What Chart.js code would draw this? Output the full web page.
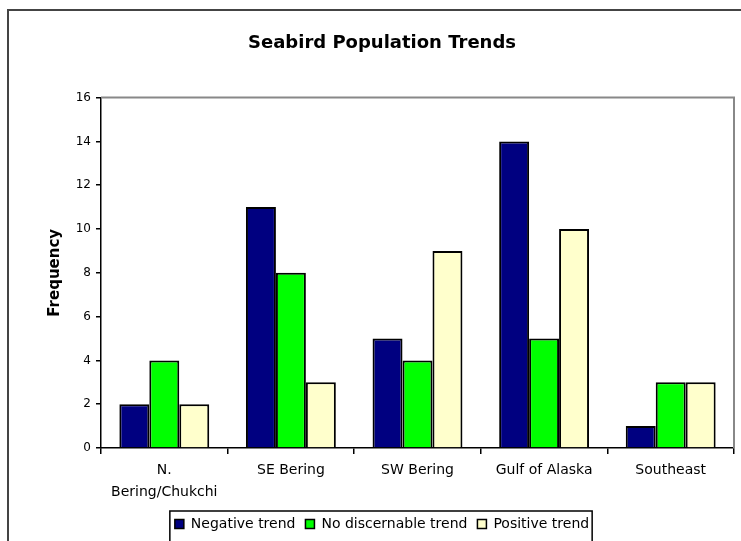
<!DOCTYPE html>
<html>
<head>
<meta charset="utf-8">
<script src="https://cdn.jsdelivr.net/npm/chart.js@4.4.1/dist/chart.umd.min.js"></script>
<style>
    html,body{margin:0;padding:0;background:#fff;overflow:hidden;}
    #wrap{position:relative;width:741px;height:541px;}
    #frame{position:absolute;left:7px;top:9px;width:800px;height:600px;border:2px solid #444;box-sizing:border-box;}
    canvas{position:absolute;left:0;top:0;}
</style>
</head>
<body>
<div id="wrap">
    <div id="frame"></div>
    <canvas id="seabird_chart" width="741" height="541"></canvas>
</div>
<script>
const regions = [['N.','Bering/Chukchi'],'SE Bering','SW Bering','Gulf of Alaska','Southeast'],
negative = [2,11,5,14,1],
noTrend = [4,8,4,5,3],
positive = [2,3,9,10,3],
yTicks = [0,2,4,6,8,10,12,14,16];

const FONT = "'DejaVu Sans', Arial, sans-serif";

// grey plot-area border on top and right, box around the legend
const plotFrame = {
    id: 'plotFrame',
    afterDraw(chart){
        const {ctx, chartArea:a, legend} = chart;
        ctx.save();
        ctx.strokeStyle = '#888';
        ctx.lineWidth = 2;
        ctx.beginPath();
        ctx.moveTo(a.left, a.top);
        ctx.lineTo(a.right, a.top);
        ctx.lineTo(a.right, a.bottom);
        ctx.stroke();
        if(legend && legend.legendHitBoxes.length){
            const boxes = legend.legendHitBoxes,
            first = boxes[0], last = boxes[boxes.length-1];
            ctx.strokeStyle = '#000';
            ctx.lineWidth = 1.5;
            ctx.strokeRect(first.left-5, first.top-6, last.left+last.width-first.left+8, 60);
        }
        ctx.restore();
    }
};

const bar = (label, data, color) => ({
    label: label,
    data: data,
    backgroundColor: color,
    borderColor: '#000',
    borderWidth: 2,
    borderSkipped: 'bottom'
});

new Chart(document.getElementById('seabird_chart'), {
    type: 'bar',
    data: {
        labels: regions,
        datasets: [
            bar('Negative trend', negative, '#000080'),
            bar('No discernable trend', noTrend, '#00ff00'),
            bar('Positive trend', positive, '#ffffcc')
        ]
    },
    options: {
        responsive: false,
        animation: false,
        layout: {padding: {left: 30, right: 7, top: 0, bottom: 0}},
        datasets: {bar: {categoryPercentage: 0.71, barPercentage: 1}},
        plugins: {
            title: {
                display: true,
                text: 'Seabird Population Trends',
                color: '#000',
                font: {family: FONT, size: 18, weight: 'bold'},
                padding: {top: 33, bottom: 43}
            },
            legend: {
                position: 'bottom',
                labels: {
                    color: '#000',
                    font: {family: FONT, size: 14},
                    boxWidth: 9,
                    boxHeight: 9,
                    padding: 10,
                    generateLabels(chart){
                        return chart.data.datasets.map((d,i)=>({
                            text: d.label,
                            fillStyle: d.backgroundColor,
                            strokeStyle: '#000',
                            lineWidth: 1.5,
                            datasetIndex: i,
                            fontColor: '#000'
                        }));
                    }
                }
            },
            tooltip: {enabled: false}
        },
        scales: {
            x: {
                afterFit(scale){ scale.height = 59; },
                grid: {display: true, drawOnChartArea: false, offset: true, color: '#000', tickLength: 6, lineWidth: 1.5},
                border: {color: '#000', width: 1.5},
                ticks: {color: '#000', font: {family: FONT, size: 14, lineHeight: 1.6}, maxRotation: 0, padding: 5}
            },
            y: {
                min: 0,
                max: 16,
                afterBuildTicks(scale){ scale.ticks = yTicks.map(v=>({value: v})); },
                afterFit(scale){ scale.width = 71; },
                grid: {display: true, drawOnChartArea: false, color: '#000', tickLength: 5, lineWidth: 1.5},
                border: {color: '#000', width: 1.5},
                ticks: {color: '#000', font: {family: FONT, size: 12}, padding: 5},
                title: {
                    display: true,
                    text: 'Frequency',
                    color: '#000',
                    font: {family: FONT, size: 15, weight: 'bold'},
                    padding: {top: 16, bottom: 0}
                }
            }
        }
    },
    plugins: [plotFrame]
});
</script>
</body>
</html>
